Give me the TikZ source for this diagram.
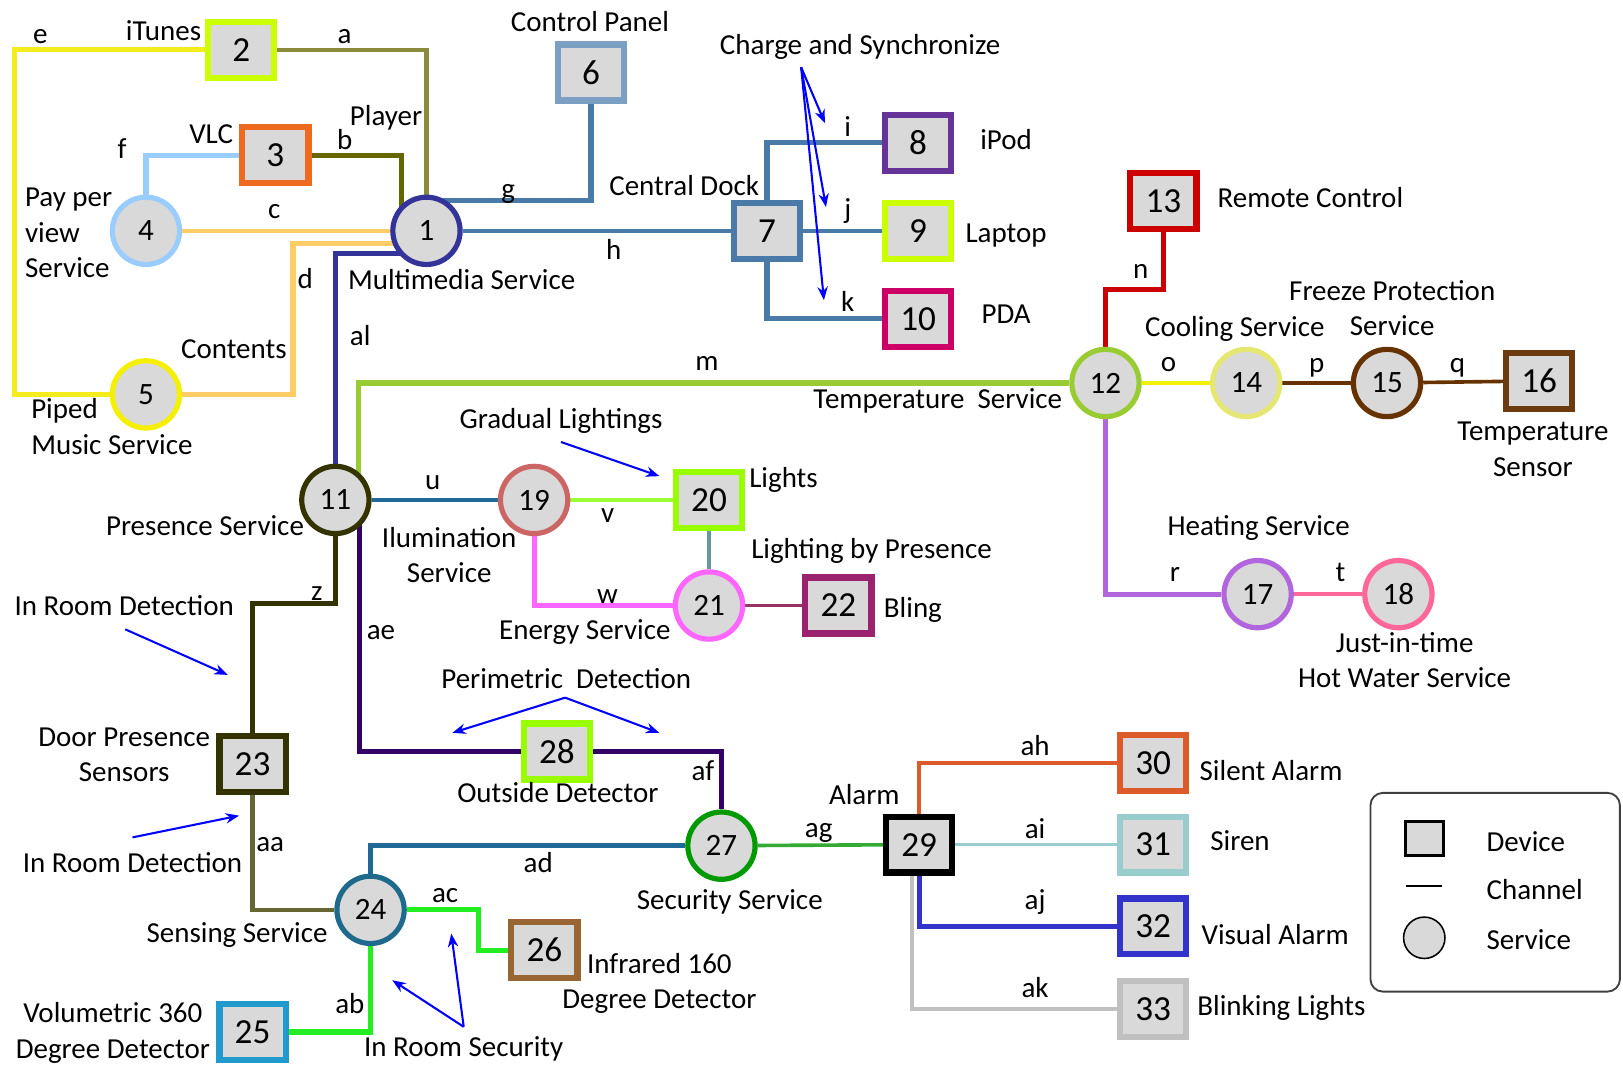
\documentclass[tikz,border=0pt]{standalone}
\usepackage{fontspec}
\setmainfont{Carlito}
\usetikzlibrary{arrows.meta,calc,backgrounds}
\definecolor{nodegrey}{HTML}{D9D9D9}
\definecolor{annblue}{HTML}{0000FF}
\definecolor{cNavy}{HTML}{333399}
\definecolor{cLime}{HTML}{CCFF00}
\definecolor{cOrange}{HTML}{EE6A1F}
\definecolor{cSky}{HTML}{99CCFF}
\definecolor{cYellow}{HTML}{F5F000}
\definecolor{cSteelL}{HTML}{7BA0C4}
\definecolor{cSteel}{HTML}{4A7AA8}
\definecolor{cPurple}{HTML}{663399}
\definecolor{cCrimson}{HTML}{CC0066}
\definecolor{cDarkOlive}{HTML}{333300}
\definecolor{cYGreen}{HTML}{99CC33}
\definecolor{cRed}{HTML}{CC0000}
\definecolor{cPaleYellow}{HTML}{E6E673}
\definecolor{cBrown}{HTML}{663300}
\definecolor{cBrownB}{HTML}{6B3A0F}
\definecolor{cLilac}{HTML}{B266DD}
\definecolor{cPink}{HTML}{FF6699}
\definecolor{cRose}{HTML}{CC6666}
\definecolor{cBright}{HTML}{99FF00}
\definecolor{cMagenta}{HTML}{FF66FF}
\definecolor{cPlum}{HTML}{9B226E}
\definecolor{cTeal}{HTML}{1F6A8C}
\definecolor{cCyan}{HTML}{2299CC}
\definecolor{cTan}{HTML}{996633}
\definecolor{cGreen}{HTML}{009900}
\definecolor{cRust}{HTML}{DD5A2A}
\definecolor{cAqua}{HTML}{99CCCC}
\definecolor{cBlue}{HTML}{3333CC}
\definecolor{cSilver}{HTML}{C0C0C0}
\definecolor{chA}{HTML}{8C8A3C}
\definecolor{chE}{HTML}{F4EC1C}
\definecolor{chB}{HTML}{666600}
\definecolor{chC}{HTML}{FFCC66}
\definecolor{chO}{HTML}{F0F000}
\definecolor{chU}{HTML}{1F6A99}
\definecolor{chV}{HTML}{99FF33}
\definecolor{chLP}{HTML}{669999}
\definecolor{chBl}{HTML}{993366}
\definecolor{chAE}{HTML}{330066}
\definecolor{chAA}{HTML}{666633}
\definecolor{chAB}{HTML}{22EE22}
\definecolor{chAG}{HTML}{33AA33}
\definecolor{legline}{HTML}{404040}
\begin{document}
\begin{tikzpicture}[x=1pt,y=-1pt,
  txt/.style={inner sep=0pt, font=\fontsize{28}{34}\selectfont, text height=23pt, text depth=3pt},
  txtm/.style={inner sep=0pt, font=\fontsize{28}{34}\selectfont, align=center},
  dev/.style={draw=#1, line width=6pt, fill=nodegrey, minimum width=64pt, minimum height=54pt, inner sep=0pt, font=\fontsize{34}{40}\selectfont},
  srv/.style={circle, draw=#1, line width=5pt, fill=nodegrey, minimum size=65pt, inner sep=0pt, font=\fontsize{30}{36}\selectfont},
  ch/.style={draw=#1, line width=5pt},
  note/.style={draw=annblue, line width=2pt, -{Stealth[length=13pt,width=10pt]}},
]
\useasboundingbox (0,0) rectangle (1568,1028);

% ---------- nodes ----------
\node[srv=cNavy] (n1) at (412,223) {1};
\node[dev=cLime] (n2) at (233,48) {2};
\node[dev=cOrange] (n3) at (266,150) {3};
\node[srv=cSky] (n4) at (141,223) {4};
\node[srv=cYellow] (n5) at (141,381) {5};
\node[dev=cSteelL] (n6) at (571,70) {6};
\node[dev=cSteel] (n7) at (741,223) {7};
\node[dev=cPurple] (n8) at (887,138) {8};
\node[dev=cLime] (n9) at (887,223) {9};
\node[dev=cCrimson] (n10) at (887,308) {10};
\node[srv=cDarkOlive] (n11) at (324,483) {11};
\node[srv=cYGreen] (n12) at (1068,370) {12};
\node[dev=cRed] (n13) at (1124,194) {13};
\node[srv=cPaleYellow] (n14) at (1204,370) {14};
\node[srv=cBrown] (n15) at (1340,370) {15};
\node[dev=cBrownB] (n16) at (1487,368) {16};
\node[srv=cLilac] (n17) at (1215,574) {17};
\node[srv=cPink] (n18) at (1351,574) {18};
\node[srv=cRose] (n19) at (516,483) {19};
\node[dev=cBright] (n20) at (685,483) {20};
\node[srv=cMagenta] (n21) at (685,585) {21};
\node[dev=cPlum] (n22) at (810,585) {22};
\node[dev=cDarkOlive] (n23) at (244,738) {23};
\node[srv=cTeal] (n24) at (358,879) {24};
\node[dev=cCyan] (n25) at (244,997) {25};
\node[dev=cTan] (n26) at (526,918) {26};
\node[srv=cGreen] (n27) at (697,817) {27};
\node[dev=cBright] (n28) at (538,726) {28};
\node[dev=black] (n29) at (888,816) {29};
\node[dev=cRust] (n30) at (1114,737) {30};
\node[dev=cAqua] (n31) at (1114,816) {31};
\node[dev=cBlue] (n32) at (1114,895) {32};
\node[dev=cSilver] (n33) at (1114,975) {33};

% bend coordinates
\coordinate (eK) at (14,381);
\coordinate (dK) at (283,235);
\coordinate (nK) at (1068,280);
\coordinate (zK) at (244,583);
\coordinate (acK) at (462,918);

% ---------- connectors ----------
\begin{pgfonlayer}{background}
\draw[ch=chA, line width=4pt] (n2) -| (n1);
\draw[ch=chE] (n2) -| (eK) -- (n5);
\draw[ch=chB] (n3) -| ($(n1)+(-24,0)$);
\draw[ch=cSky] (n3) -| (n4);
\draw[ch=chC, line width=4pt] (n4) -- (n1);
\draw[ch=chC] (n5) -| (dK) -- (dK -| n1);
\draw[ch=cSteel] (n6) |- ($(n1)+(0,-29)$);
\draw[ch=cSteel, line width=4pt] (n1) -- (n7);
\draw[ch=cSteel] (n7) |- (n8);
\draw[ch=cSteel, line width=3.5pt] (n7) -- (n9);
\draw[ch=cSteel] (n7) |- (n10);
\draw[ch=cYGreen] (n12) -| ($(n11)+(22,0)$);
\draw[ch=cRed] (n13) |- (nK) -- (n12);
\draw[ch=chO, line width=3pt] (n12) -- (n14);
\draw[ch=cBrown, line width=4pt] (n14) -- (n15);
\draw[ch=cBrown, line width=3.5pt] (n15) -- (n16);
\draw[ch=cLilac] (n12) |- (n17);
\draw[ch=cPink, line width=4pt] (n17) -- (n18);
\draw[ch=cNavy] (n11) |- ($(n1)+(0,22)$);
\draw[ch=chU, line width=4pt] (n11) -- (n19);
\draw[ch=chV, line width=3pt] (n19) -- (n20);
\draw[ch=cMagenta] (n19) |- (n21);
\draw[ch=chLP, line width=3pt] (n20) -- (n21);
\draw[ch=chBl, line width=3.5pt] (n21) -- (n22);
\draw[ch=cDarkOlive] (n11) |- (zK) -- (n23);
\draw[ch=chAE] ($(n11)+(23,0)$) |- (n28);
\draw[ch=chAE] (n28) -| (n27);
\draw[ch=chAA, line width=4pt] (n23) |- (n24);
\draw[ch=chAB] (n24) |- (n25);
\draw[ch=chAB] (n24) -| (acK) -- (n26);
\draw[ch=chU] (n24) |- (n27);
\draw[ch=chAG, line width=3.5pt] (n27) -- (n29);
\draw[ch=cRust, line width=4pt] (n29) |- (n30);
\draw[ch=cAqua, line width=3.5pt] (n29) -- (n31);
\draw[ch=cSilver, line width=4pt] ($(n29)+(-7,0)$) |- (n33);
\draw[ch=cBlue] (n29) |- (n32);
\end{pgfonlayer}

% ---------- labels ----------
\node[txt] (le) at (39,32) {e};
\node[txt] (lItunes) at (158,29) {iTunes};
\node[txt] (la) at (333,32) {a};
\node[txt] (lCP) at (570,20) {Control Panel};
\node[txt] (lCS) at (831,43) {Charge and Synchronize};
\node[txt] (lPlayer) at (373,111) {Player};
\node[txt] (lVLC) at (204,129) {VLC};
\node[txt] (lb) at (333,134) {b};
\node[txt] (lf) at (118,143) {f};
\node[txt] (li) at (819,122) {i};
\node[txt] (liPod) at (972,134) {iPod};
\node[txtm, align=left, anchor=west] (lPPV) at (24,225) {Pay per\\view\\Service};
\node[txt] (lc) at (265,201) {c};
\node[txt] (lg) at (491,182) {g};
\node[txt] (lCD) at (661,179) {Central Dock};
\node[txt] (lj) at (819,201) {j};
\node[txt] (lLaptop) at (972,224) {Laptop};
\node[txt] (lRC) at (1266,190) {Remote Control};
\node[txt] (lh) at (593,241) {h};
\node[txt] (ld) at (295,269) {d};
\node[txt] (lMS) at (446,270) {Multimedia Service};
\node[txt] (lk) at (819,291) {k};
\node[txt] (lPDA) at (972,303) {PDA};
\node[txt] (ln) at (1102,259) {n};
\node[txtm] (lFP) at (1345,298) {Freeze Protection\\Service};
\node[txt] (lCool) at (1193,315) {Cooling Service};
\node[txt] (lal) at (348,324) {al};
\node[txt] (lContents) at (226,336) {Contents};
\node[txt] (lm) at (683,348) {m};
\node[txt] (lo) at (1129,349) {o};
\node[txt] (lp) at (1272,350) {p};
\node[txt] (lq) at (1408,350) {q};
\node[txtm, align=left, anchor=west] (lPiped) at (30,412) {Piped\\Music Service};
\node[txt] (lTS) at (906,385) {Temperature~~Service};
\node[txt] (lGL) at (542,404) {Gradual Lightings};
\node[txtm] (lTSens) at (1481,434) {Temperature\\Sensor};
\node[txt] (lu) at (418,463) {u};
\node[txt] (lLights) at (757,461) {Lights};
\node[txt] (lv) at (587,495) {v};
\node[txt] (lPS) at (198,507) {Presence Service};
\node[txtm] (lIlum) at (434,536) {Ilumination\\Service};
\node[txt] (lLbP) at (842,530) {Lighting by Presence};
\node[txt] (lHS) at (1216,507) {Heating Service};
\node[txt] (lr) at (1135,552) {r};
\node[txt] (lt) at (1295,552) {t};
\node[txt] (lz) at (306,570) {z};
\node[txt] (lw) at (587,573) {w};
\node[txt] (lIRD1) at (120,585) {In Room Detection};
\node[txt] (lBling) at (882,587) {Bling};
\node[txt] (lES) at (565,608) {Energy Service};
\node[txt] (lae) at (368,608) {ae};
\node[txtm] (lJIT) at (1357,638) {Just-in-time\\Hot Water Service};
\node[txt] (lPD) at (547,655) {Perimetric~~Detection};
\node[txtm] (lDPS) at (120,729) {Door Presence\\Sensors};
\node[txt] (lah) at (1000,720) {ah};
\node[txt] (laf) at (679,744) {af};
\node[txt] (lSA) at (1228,744) {Silent Alarm};
\node[txt] (lOD) at (539,765) {Outside Detector};
\node[txt] (lAlarm) at (835,767) {Alarm};
\node[txt] (lag) at (791,799) {ag};
\node[txt] (lai) at (1000,800) {ai};
\node[txt] (laa) at (261,813) {aa};
\node[txt] (lSiren) at (1198,812) {Siren};
\node[txt] (lIRD2) at (128,833) {In Room Detection};
\node[txt] (lad) at (520,833) {ad};
\node[txt] (lac) at (430,862) {ac};
\node[txt] (laj) at (1000,869) {aj};
\node[txt] (lSecS) at (705,869) {Security Service};
\node[txt] (lSensS) at (229,901) {Sensing Service};
\node[txt] (lVA) at (1232,902) {Visual Alarm};
\node[txtm] (lIR) at (637,950) {Infrared 160\\Degree Detector};
\node[txt] (lak) at (1000,954) {ak};
\node[txt] (lab) at (338,969) {ab};
\node[txt] (lBL) at (1238,971) {Blinking Lights};
\node[txtm] (lVol) at (109,998) {Volumetric 360\\Degree Detector};
\node[txt] (lIRS) at (448,1011) {In Room Security};

% ---------- annotation arrows ----------
\coordinate (csS) at (774,65);
\coordinate (csT1) at (797,119);
\coordinate (csT2) at (798,200);
\coordinate (csT3) at (796,290);
\draw[note] (csS) -- (csT1);
\draw[note] (csS) -- (csT2);
\draw[note] (csS) -- (csT3);
\coordinate (glS) at (542,427);
\coordinate (glT) at (637,460);
\draw[note] (glS) -- (glT);
\coordinate (ird1S) at (121,608);
\coordinate (ird1T) at (220,652);
\draw[note] (ird1S) -- (ird1T);
\coordinate (ird2S) at (128,809);
\coordinate (ird2T) at (231,788);
\draw[note] (ird2S) -- (ird2T);
\coordinate (pdA) at (546,674);
\coordinate (pdL) at (437,708);
\coordinate (pdR) at (637,708);
\draw[note] (pdA) -- (pdL);
\draw[note] (pdA) -- (pdR);
\coordinate (irsA) at (448,992);
\coordinate (irsL) at (379,947);
\coordinate (irsR) at (436,902);
\draw[note] (irsA) -- (irsL);
\draw[note] (irsA) -- (irsR);

% ---------- legend ----------
\node[draw=legline, line width=1.8pt, rounded corners=12pt, minimum width=241pt, minimum height=192pt, inner sep=0pt] (legend) at (1444.5,862) {};
\node[draw=black, line width=3pt, fill=nodegrey, minimum width=37pt, minimum height=33pt, inner sep=0pt] (lgDev) at (1376,810) {};
\coordinate (lgC1) at (1358,856);
\coordinate (lgC2) at (1393,856);
\draw[black, line width=1.3pt] (lgC1) -- (lgC2);
\node[circle, draw=black, line width=1.5pt, fill=nodegrey, minimum size=40pt, inner sep=0pt] (lgSrv) at (1376,906) {};
\node[txt, anchor=west] (lDev) at (1436,813) {Device};
\node[txt, anchor=west] (lChan) at (1436,859) {Channel};
\node[txt, anchor=west] (lServ) at (1436,907) {Service};
\end{tikzpicture}
\end{document}
